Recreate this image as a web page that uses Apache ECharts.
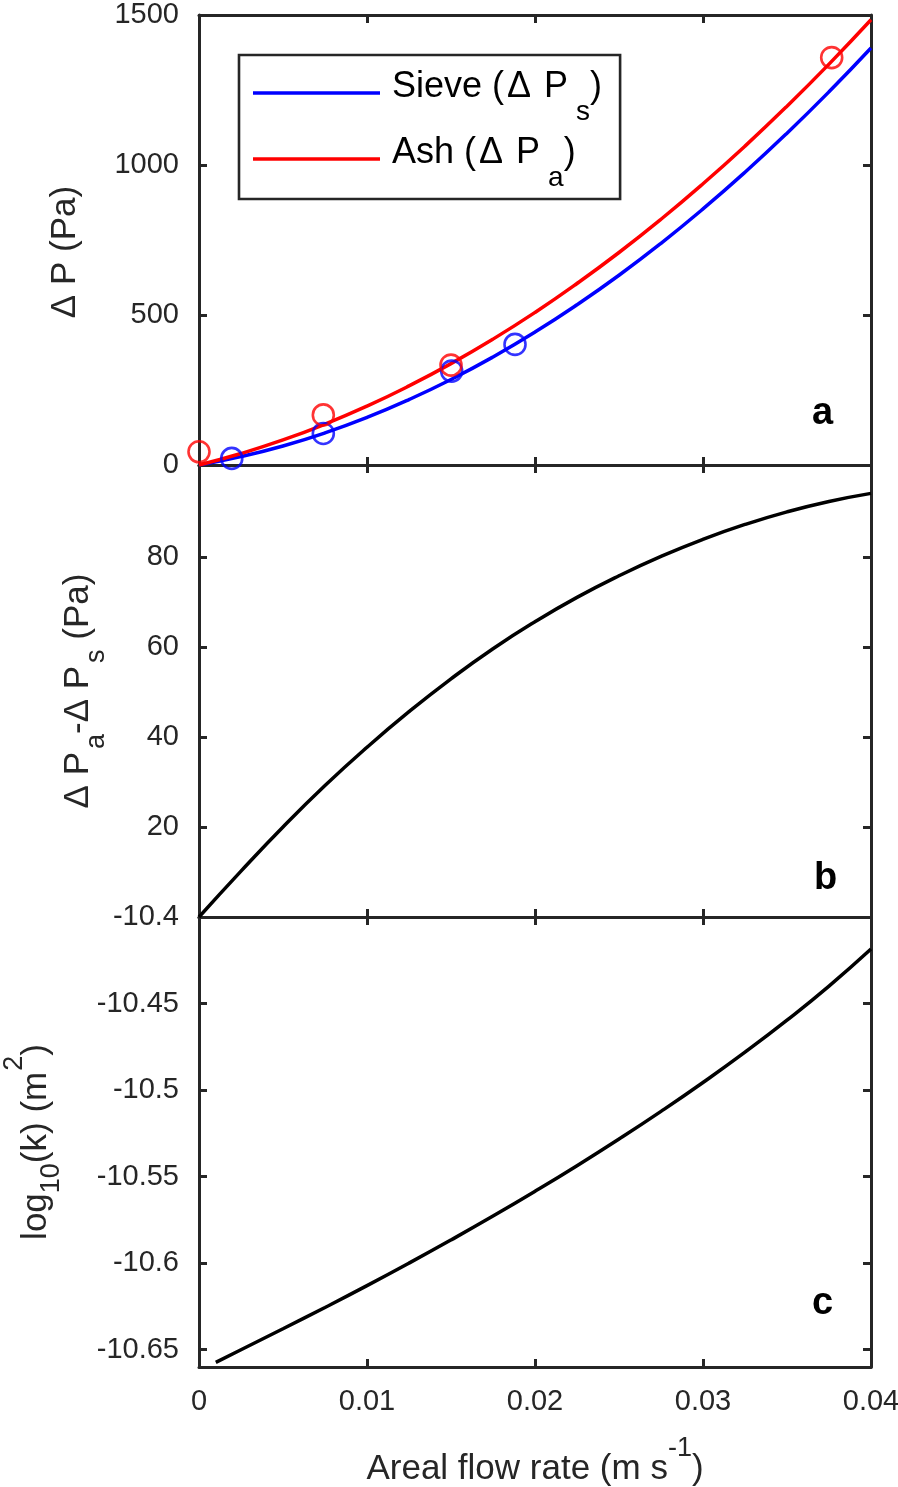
<!DOCTYPE html>
<html><head><meta charset="utf-8">
<script src="https://cdn.jsdelivr.net/npm/echarts@6/dist/echarts.min.js"></script>
<style>html,body{margin:0;padding:0;background:#fff}#c{width:898px;height:1487px}</style>
</head><body><div id="c"></div>
<script>
// ---- data ----
const flowRate   = [0,0.0025,0.005,0.0075,0.01,0.0125,0.015,0.0175,0.02,0.0225,0.025,0.0275,0.03,0.0325,0.035,0.0375,0.04];
const sieveCurve = [0,28,63.5,107,158.5,218,285,360,443,534,632.5,739,853.5,975.8,1106,1244,1390];
const ashCurve   = [0,38.2,83.5,136.2,196.2,263.6,337.9,419.6,508.6,605,708.3,819.1,937.4,1063,1196,1336.3,1484.1];
const sieveDataX = [0.00195,0.0074,0.01504,0.01881];
const sieveDataY = [22,105,313,402];
const ashDataX   = [0,0.0074,0.0150,0.03766];
const ashDataY   = [44,167,333,1358];
const diffCurve  = [0,10.2,20,29.2,37.7,45.6,52.9,59.6,65.6,71,75.8,80.1,83.9,87.2,90,92.3,94.1];
const kRate      = [0.001,0.0025,0.005,0.0075,0.01,0.0125,0.015,0.0175,0.02,0.0225,0.025,0.0275,0.03,0.0325,0.035,0.0375,0.04];
const logK       = [-10.6573,-10.65,-10.6379,-10.6256,-10.613,-10.6,-10.5866,-10.5728,-10.5585,-10.5437,-10.5283,-10.5123,-10.4956,-10.4781,-10.4596,-10.4399,-10.4185];
const diffTicks  = [20,40,60,80];
const logKTicks  = [-10.65,-10.6,-10.55,-10.5,-10.45,-10.4];
const panelLetters = ['a','b','c'];

const FONT = '"Liberation Sans", Arial, Helvetica, sans-serif';
const AXC = '#262626';
const zip = (a,b) => a.map((v,i)=>[v,b[i]]);

const grids = [
  {left:199, right:27, top:15,  height:450, containLabel:false, outerBoundsMode:'none'},
  {left:199, right:27, top:465, height:452, containLabel:false, outerBoundsMode:'none'},
  {left:199, right:27, top:917, height:450, containLabel:false, outerBoundsMode:'none'}
];
const axLine = {show:true, onZero:false, lineStyle:{color:AXC, width:3}};
const tickStyle = {color:AXC, width:3};
const lblStyle = {fontSize:29, color:AXC, fontFamily:FONT};
const R = (size, extra) => Object.assign({fontSize:size, fontFamily:FONT, color:AXC}, extra);

const xAxes = [];
for (let g=0; g<3; g++) {
  ['bottom','top'].forEach(pos => {
    const ax = {
      type:'value', gridIndex:g, position:pos, min:0, max:0.04, interval:0.01,
      axisLine:axLine, splitLine:{show:false},
      axisTick:{show:true, inside:true, length:8, lineStyle:tickStyle},
      axisLabel:{show:false}
    };
    if (g===2 && pos==='bottom') {
      ax.axisLabel = Object.assign({show:true, margin:20,
        formatter: v => v===0 ? '0' : (+v).toFixed(2)}, lblStyle);
      ax.name = '{n|Areal flow rate (m s}{p|-1}{n|)}';
      ax.nameLocation = 'middle';
      ax.nameGap = 65;
      ax.nameMoveOverlap = false;
      ax.nameTextStyle = {color:AXC, fontFamily:FONT, fontSize:35,
        rich:{
          n:R(35,{lineHeight:20, padding:[20,0,0,0], verticalAlign:'top'}),
          p:R(27,{lineHeight:20, padding:[2.6,0,0,0], verticalAlign:'top'})
        }};
    }
    xAxes.push(ax);
  });
}

const yAxes = [];
const yDefs = [
  {min:0, max:1500, interval:500},
  {min:0, max:100.4, custom:diffTicks},
  {min:-10.66, max:-10.4, custom:logKTicks}
];
for (let g=0; g<3; g++) {
  ['left','right'].forEach(pos => {
    const d = yDefs[g];
    const ax = {
      type:'value', gridIndex:g, position:pos, min:d.min, max:d.max,
      axisLine:axLine, splitLine:{show:false},
      axisTick:{show:true, inside:true, length:8, lineStyle:tickStyle},
      axisLabel:{show:false}
    };
    if (d.interval) ax.interval = d.interval;
    if (d.custom) ax.axisTick.customValues = d.custom;
    if (pos==='left') {
      ax.axisLabel = Object.assign({show:true, margin:20,
        formatter: v => String(+(+v).toFixed(2))}, lblStyle);
      if (d.custom) ax.axisLabel.customValues = d.custom;
      ax.nameLocation = 'middle';
      ax.nameMoveOverlap = false;
      if (g===0) {
        ax.name = '{n|Δ P (Pa)}';
        ax.nameGap = 116;
        ax.nameTextStyle = {color:AXC, fontFamily:FONT, fontSize:35, rich:{
          n:R(35,{padding:[0,24,0,0]})
        }};
      } else if (g===1) {
        ax.name = '{n|Δ P}{s|a}{n|-Δ P}{s|s}{n| (Pa)}';
        ax.nameGap = 98;
        ax.nameTextStyle = {color:AXC, fontFamily:FONT, fontSize:35, rich:{
          n:R(35,{lineHeight:40, verticalAlign:'top'}),
          s:R(27,{lineHeight:40, padding:[21.7,0,0,3], verticalAlign:'top'})
        }};
      } else {
        ax.name = '{n|log}{s|10}{n|(k) (m}{p|2}{n|)}';
        ax.nameGap = 128;
        ax.nameTextStyle = {color:AXC, fontFamily:FONT, fontSize:35, rich:{
          n:R(35,{lineHeight:70, padding:[18,0,0,0], verticalAlign:'top'}),
          s:R(27,{lineHeight:70, padding:[37,0,0,0], verticalAlign:'top'}),
          p:R(27,{lineHeight:70, padding:[0,0,0,1], verticalAlign:'top'})
        }};
      }
    }
    yAxes.push(ax);
  });
}

const lineSer = (name, xs, ys, color, xi, yi) => ({
  name, type:'line', xAxisIndex:xi, yAxisIndex:yi, data:zip(xs,ys),
  showSymbol:false, smooth:0.5,
  lineStyle:{color, width:3.5}, itemStyle:{color}, z:3
});
const dotSer = (name, xs, ys, color) => ({
  name, type:'scatter', xAxisIndex:0, yAxisIndex:0, data:zip(xs,ys),
  symbol:'circle', symbolSize:21, clip:false,
  itemStyle:{color:'rgba(0,0,0,0)', borderColor:color, borderWidth:2.6}, z:4
});

const LC = '#000';
const LS = (size, pad) => ({fontSize:size, fontFamily:FONT, color:LC, lineHeight:48, padding:pad, verticalAlign:'top'});
const legRich = {
  f: LS(36,[0,0,0,7]),
  d: LS(36,[0,3,0,3]),
  n: LS(36,[0,0,0,0]),
  s: LS(28,[29,0,0,8])
};

const letterPos = [[812,395],[814,860],[812,1285]];
const option = {
  backgroundColor:'#fff',
  animation:false,
  grid:grids,
  xAxis:xAxes,
  yAxis:yAxes,
  legend:{
    data:['Sieve','Ash'], orient:'vertical', left:239, top:55,
    icon:'rect', itemWidth:127, itemHeight:3.5, itemGap:9,
    padding:[14,18,7,14], borderColor:AXC, borderWidth:2.6, backgroundColor:'#fff',
    selectedMode:false,
    formatter: n => n==='Sieve' ? '{f|Sieve (}{d|Δ}{n| P}{s|s}{n|)}' : '{f|Ash (}{d|Δ}{n| P}{s|a}{n|)}',
    textStyle:{fontSize:36, fontFamily:FONT, color:LC, rich:legRich}
  },
  graphic: panelLetters.map((t,i)=>({
    type:'text', left:letterPos[i][0], top:letterPos[i][1], z:10,
    style:{text:t, font:'bold 38px ' + FONT, fill:'#000'}
  })),
  series:[
    lineSer('Sieve', flowRate, sieveCurve, '#0000ff', 0, 0),
    lineSer('Ash', flowRate, ashCurve, '#ff0000', 0, 0),
    dotSer('Sieve data', sieveDataX, sieveDataY, '#0000ff'),
    dotSer('Ash data', ashDataX, ashDataY, '#ff0000'),
    lineSer('Difference', flowRate, diffCurve, '#000000', 2, 2),
    lineSer('Permeability', kRate, logK, '#000000', 4, 4)
  ]
};
const chart = echarts.init(document.getElementById('c'), null, {renderer:'canvas'});
chart.setOption(option);
</script>
</body></html>
